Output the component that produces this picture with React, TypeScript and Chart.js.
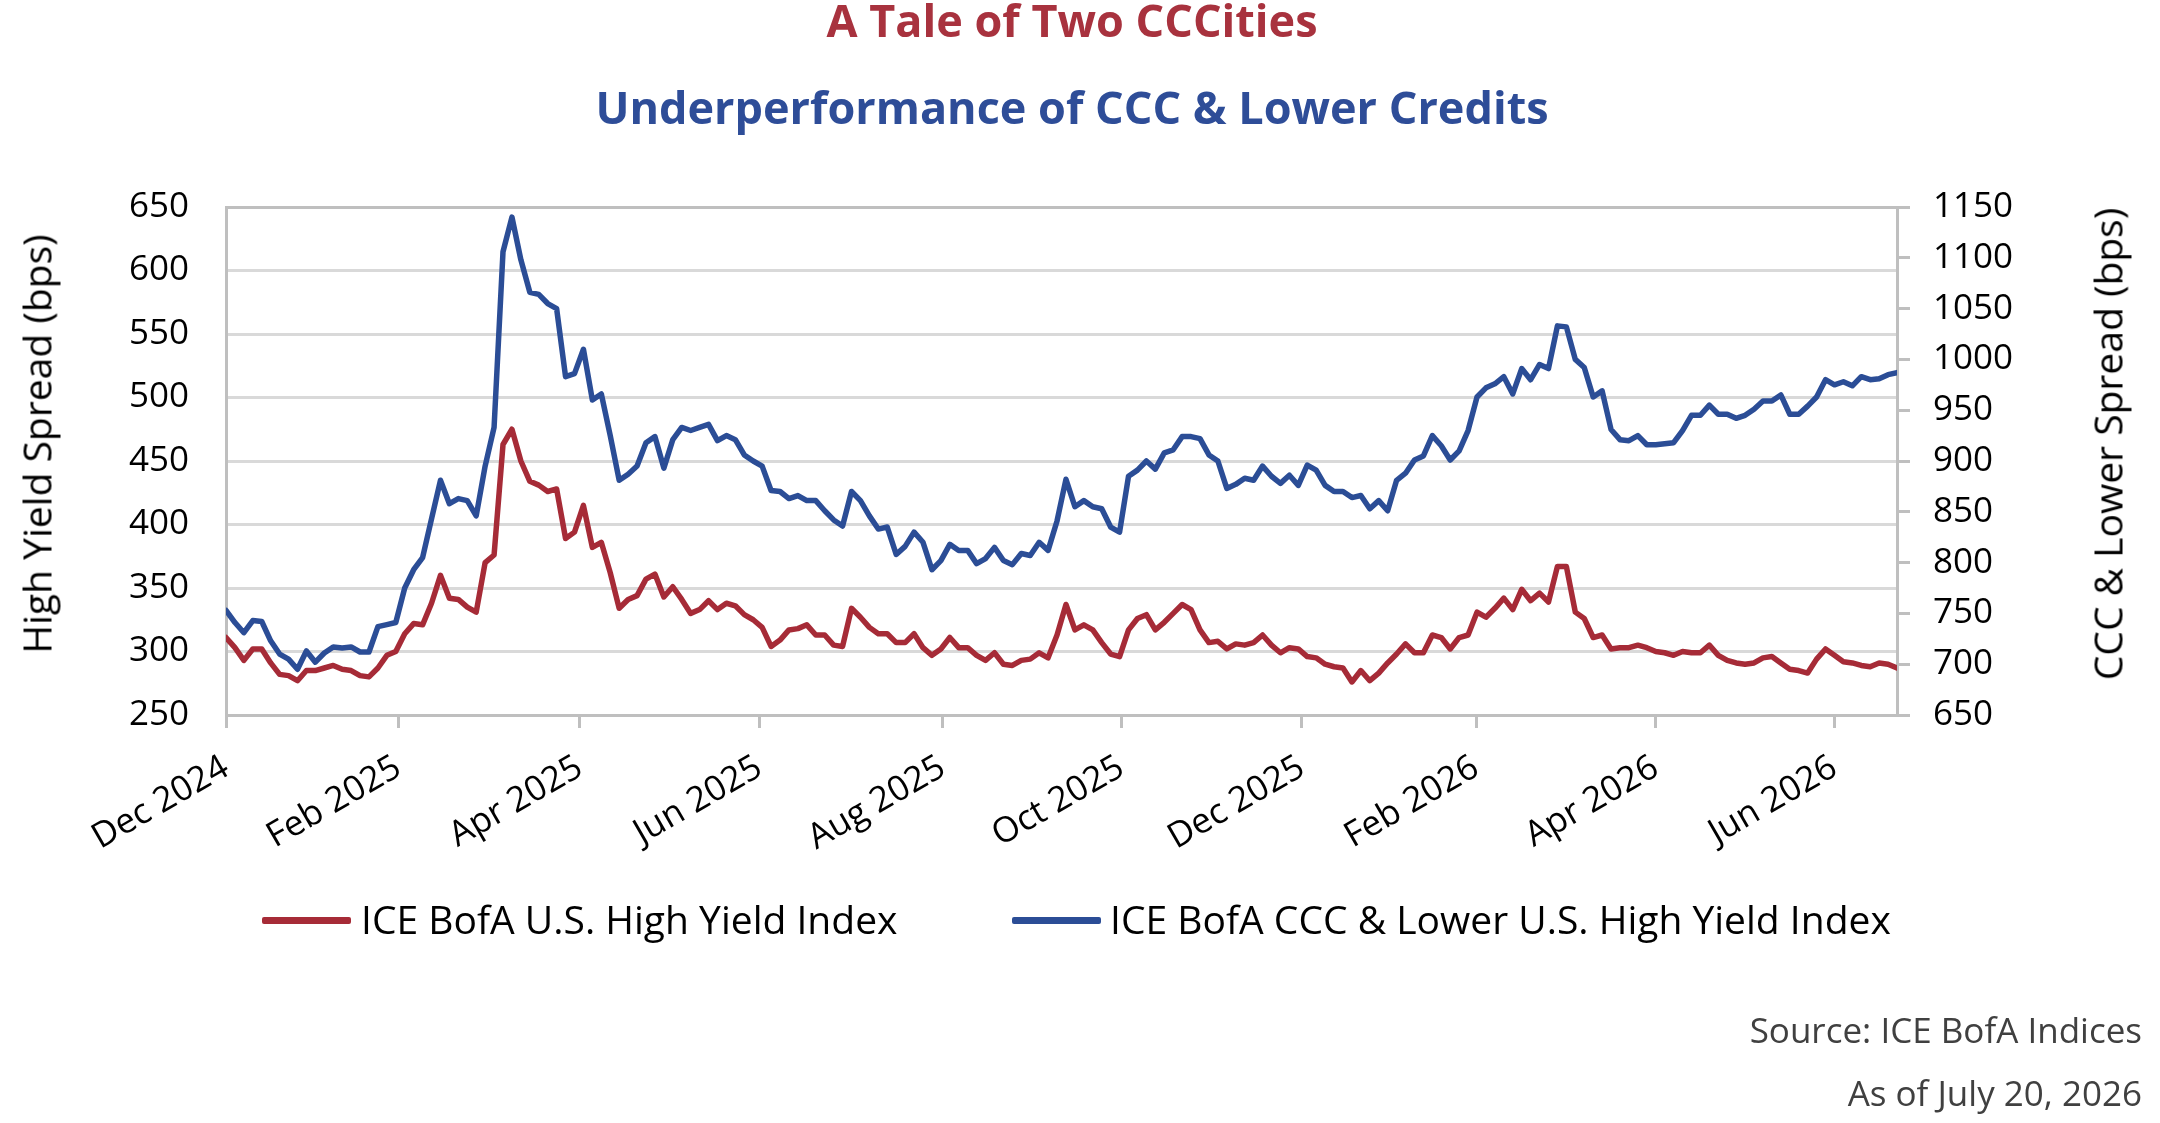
import React, { useEffect, useRef } from 'react';
import { Chart, registerables } from 'chart.js';

Chart.register(...registerables);

// ICE BofA U.S. High Yield Index OAS (bps), sampled roughly every two trading days
const hyValues = [
  311, 303, 293, 302, 302, 291, 282, 281, 277, 285,
  285, 287, 289, 286, 285, 281, 280, 287, 297, 300,
  314, 322, 321, 338, 360, 342, 341, 335, 331, 370,
  376, 463, 475, 450, 434, 431, 426, 428, 389, 394,
  415, 382, 386, 362, 334, 341, 344, 357, 361, 343,
  351, 341, 330, 333, 340, 333, 338, 336, 329, 325,
  319, 304, 309, 317, 318, 321, 313, 313, 305, 304,
  334, 327, 319, 314, 314, 307, 307, 314, 303, 297,
  302, 311, 303, 303, 297, 293, 299, 290, 289, 293,
  294, 299, 295, 313, 337, 317, 321, 317, 307, 298,
  296, 317, 326, 329, 317, 323, 330, 337, 333, 317,
  307, 308, 302, 306, 305, 307, 313, 305, 299, 303,
  302, 296, 295, 290, 288, 287, 276, 285, 277, 283,
  291, 298, 306, 299, 299, 313, 311, 302, 311, 313,
  331, 327, 334, 342, 333, 349, 340, 346, 339, 367,
  367, 331, 326, 311, 313, 302, 303, 303, 305, 303,
  300, 299, 297, 300, 299, 299, 305, 297, 293, 291,
  290, 291, 295, 296, 291, 286, 285, 283, 294, 302,
  297, 292, 291, 289, 288, 291, 290, 287
];

// ICE BofA CCC & Lower U.S. High Yield Index OAS (bps), same sampling
const cccValues = [
  753, 741, 731, 743, 742, 723, 710, 705, 695, 713,
  702, 711, 717, 716, 717, 712, 712, 737, 739, 741,
  775, 793, 805, 843, 881, 858, 863, 861, 846, 895,
  933, 1106, 1140, 1098, 1066, 1064, 1055, 1050, 983, 986,
  1010, 960, 966, 925, 881, 887, 895, 918, 924, 893,
  921, 933, 930, 933, 936, 920, 925, 921, 906, 900,
  895, 871, 870, 863, 866, 861, 861, 851, 842, 836,
  870, 861, 846, 833, 835, 808, 816, 830, 820, 793,
  802, 818, 812, 812, 799, 804, 815, 802, 798, 809,
  807, 820, 812, 841, 882, 855, 861, 855, 853, 835,
  830, 885, 891, 900, 892, 908, 911, 924, 924, 922,
  906, 900, 873, 877, 883, 881, 895, 885, 878, 886,
  876, 896, 891, 876, 870, 870, 864, 866, 853, 861,
  851, 881, 888, 901, 905, 925, 915, 901, 910, 930,
  963, 972, 976, 983, 966, 991, 980, 995, 991, 1033,
  1032, 1000, 992, 963, 969, 931, 921, 920, 925, 916,
  916, 917, 918, 930, 945, 945, 955, 946, 946, 942,
  945, 951, 959, 959, 965, 946, 946, 954, 963, 980,
  975, 978, 974, 983, 980, 981, 985, 987
];

const tickLabels = [
  'Dec 2024', 'Feb 2025', 'Apr 2025', 'Jun 2025', 'Aug 2025',
  'Oct 2025', 'Dec 2025', 'Feb 2026', 'Apr 2026', 'Jun 2026'
];
// category positions (sample index) of the month labels
const tickPositions = [0, 19.3, 39.6, 59.7, 80.2, 100.2, 120.4, 139.9, 160.0, 180.0];

const leftTicks = [250, 300, 350, 400, 450, 500, 550, 600, 650];
const rightTicks = [650, 700, 750, 800, 850, 900, 950, 1000, 1050, 1100, 1150];

const seriesNames = ['ICE BofA U.S. High Yield Index', 'ICE BofA CCC & Lower U.S. High Yield Index'];

const RED = '#A62B37';
const BLUE = '#2B4D96';
const AXIS = '#BFBFBF';
const GRID = '#D9D9D9';
const FONT = '"Open Sans", "Noto Sans", sans-serif';

export default function App() {
  const canvasRef = useRef<HTMLCanvasElement | null>(null);

  useEffect(() => {
    const canvas = canvasRef.current;
    if (!canvas) return;
    const chart = new Chart(canvas, {
      type: 'line',
      data: {
        datasets: [
          {
            label: seriesNames[0],
            data: hyValues.map((v, i) => ({ x: i, y: v })),
            borderColor: RED,
            backgroundColor: RED,
            borderWidth: 5.5,
            yAxisID: 'y',
            order: 2,
          },
          {
            label: seriesNames[1],
            data: cccValues.map((v, i) => ({ x: i, y: v })),
            borderColor: BLUE,
            backgroundColor: BLUE,
            borderWidth: 5.5,
            yAxisID: 'y2',
            order: 1,
          },
        ],
      },
      options: {
        responsive: false,
        animation: false,
        layout: { padding: { top: 207, left: 0, right: 0, bottom: 0 } },
        plugins: {
          legend: { display: false },
          tooltip: { enabled: false },
          title: { display: false },
        },
        elements: {
          point: { radius: 0, hoverRadius: 0 },
          line: { tension: 0, borderJoinStyle: 'round', borderCapStyle: 'round' },
        },
        scales: {
          x: {
            type: 'linear',
            min: 0,
            max: hyValues.length - 1,
            afterBuildTicks: (s: any) => {
              s.ticks = tickPositions.map((v) => ({ value: v }));
            },
            afterFit: (s: any) => {
              s.height = 1123 - 715;
            },
            ticks: {
              autoSkip: false,
              minRotation: 30,
              maxRotation: 30,
              padding: 19,
              color: '#000',
              font: { family: FONT, size: 35 },
              callback: (_v: any, i: number) => tickLabels[i],
            },
            grid: { drawOnChartArea: false, drawTicks: true, tickLength: 13, color: AXIS, lineWidth: 3 },
            border: { display: true, color: AXIS, width: 3 },
          },
          y: {
            position: 'left',
            min: leftTicks[0],
            max: leftTicks[leftTicks.length - 1],
            afterBuildTicks: (s: any) => {
              s.ticks = leftTicks.map((v) => ({ value: v }));
            },
            afterFit: (s: any) => {
              s.width = 226;
            },
            ticks: {
              padding: 37,
              color: '#000',
              font: { family: FONT, size: 35 },
              callback: (v: any) => String(v),
            },
            grid: {
              drawTicks: false,
              lineWidth: 3,
              color: (ctx: any) =>
                ctx.tick && (ctx.tick.value === 650 || ctx.tick.value === 250) ? AXIS : GRID,
            },
            border: { display: true, color: AXIS, width: 3 },
          },
          y2: {
            position: 'right',
            min: rightTicks[0],
            max: rightTicks[rightTicks.length - 1],
            afterBuildTicks: (s: any) => {
              s.ticks = rightTicks.map((v) => ({ value: v }));
            },
            afterFit: (s: any) => {
              s.width = 2160 - 1897;
            },
            ticks: {
              padding: 23,
              color: '#000',
              font: { family: FONT, size: 35 },
              callback: (v: any) => String(v),
            },
            grid: { drawOnChartArea: false, drawTicks: true, tickLength: 13, color: AXIS, lineWidth: 3 },
            border: { display: true, color: AXIS, width: 3 },
          },
        },
      },
    } as any);
    return () => chart.destroy();
  }, []);

  const text = (fs: number, extra: React.CSSProperties): React.CSSProperties => ({
    position: 'absolute',
    fontSize: fs,
    lineHeight: `${fs}px`,
    whiteSpace: 'nowrap',
    margin: 0,
    ...extra,
  });

  return (
    <div
      style={{
        position: 'fixed',
        left: 0,
        top: 0,
        width: 2160,
        height: 1123,
        background: '#fff',
        fontFamily: FONT,
        overflow: 'hidden',
      }}
    >
      <canvas ref={canvasRef} width={2160} height={1123} style={{ position: 'absolute', left: 0, top: 0 }} />
      <div style={text(45, { left: 1072, top: -3, transform: 'translateX(-50%)', fontWeight: 700, color: '#A8323E' })}>
        A Tale of Two CCCities
      </div>
      <div style={text(45, { left: 1072, top: 84, transform: 'translateX(-50%)', fontWeight: 700, color: '#2E4D98' })}>
        Underperformance of CCC &amp; Lower Credits
      </div>
      <div
        style={text(39, {
          left: 36,
          top: 444,
          transform: 'translate(-50%, -50%) rotate(-90deg)',
          color: '#000',
        })}
      >
        High Yield Spread (bps)
      </div>
      <div
        style={text(39, {
          left: 2107,
          top: 444,
          transform: 'translate(-50%, -50%) rotate(-90deg)',
          color: '#000',
        })}
      >
        CCC &amp; Lower Spread (bps)
      </div>
      <div style={{ position: 'absolute', left: 262, top: 917, width: 89, height: 7, background: RED, borderRadius: 2 }} />
      <div style={text(39, { left: 361, top: 899, color: '#000' })}>{seriesNames[0]}</div>
      <div style={{ position: 'absolute', left: 1012, top: 917, width: 89, height: 7, background: BLUE, borderRadius: 2 }} />
      <div style={text(39, { left: 1110, top: 899, color: '#000' })}>{seriesNames[1]}</div>
      <div style={text(35, { right: 18, top: 1012, color: '#404040', textAlign: 'right' })}>
        Source: ICE BofA Indices
      </div>
      <div style={text(35, { right: 18, top: 1075, color: '#404040', textAlign: 'right' })}>
        As of July 20, 2026
      </div>
    </div>
  );
}
